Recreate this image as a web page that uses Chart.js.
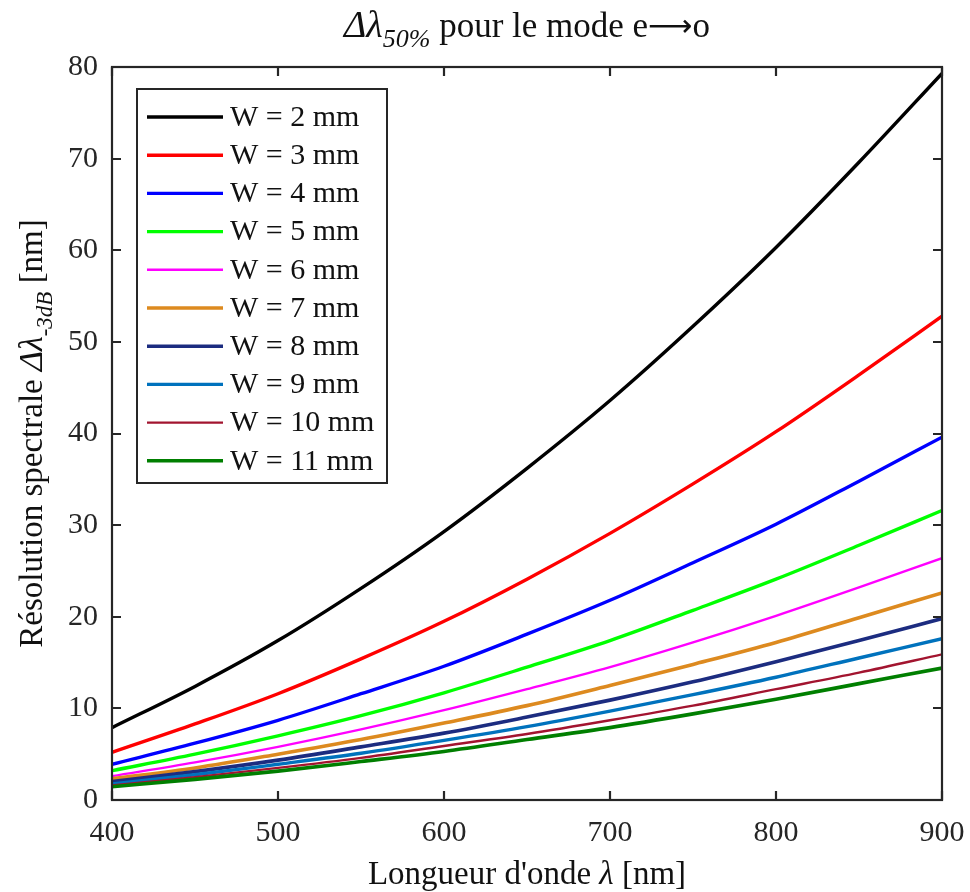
<!DOCTYPE html>
<html><head><meta charset="utf-8">
<script src="https://cdn.jsdelivr.net/npm/chart.js@4.4.0/dist/chart.umd.min.js"></script>
<style>html,body{margin:0;padding:0;background:#fff;}</style>
</head><body>
<canvas id="c" width="970" height="892"></canvas>
<script>
// ---- data ----
const wavelengths = [400, 450, 500, 550, 600, 650, 700, 750, 800, 850, 900];
const seriesLabels = ['W = 2 mm','W = 3 mm','W = 4 mm','W = 5 mm','W = 6 mm','W = 7 mm','W = 8 mm','W = 9 mm','W = 10 mm','W = 11 mm'];
const w2  = [7.9, 12.4, 17.4, 23.1, 29.3, 36.2, 43.6, 51.7, 60.3, 69.6, 79.3];
const w3  = [5.2, 8.3, 11.6, 15.4, 19.5, 24.1, 29.1, 34.5, 40.2, 46.4, 52.8];
const w4  = [3.9, 6.2, 8.7, 11.6, 14.6, 18.1, 21.8, 25.9, 30.1, 34.8, 39.6];
const w5  = [3.2, 5.0, 7.0, 9.2, 11.7, 14.5, 17.4, 20.7, 24.1, 27.8, 31.6];
const w6  = [2.6, 4.1, 5.8, 7.7, 9.8, 12.1, 14.5, 17.2, 20.1, 23.2, 26.4];
const w7  = [2.3, 3.5, 5.0, 6.6, 8.4, 10.3, 12.5, 14.8, 17.2, 19.9, 22.6];
const w8  = [2.0, 3.1, 4.35, 5.8, 7.3, 9.05, 10.9, 12.9, 15.1, 17.4, 19.8];
const w9  = [1.75, 2.75, 3.9, 5.1, 6.5, 8.0, 9.7, 11.5, 13.4, 15.5, 17.6];
const w10 = [1.6, 2.5, 3.5, 4.6, 5.9, 7.2, 8.7, 10.3, 12.1, 13.9, 15.9];
const w11 = [1.45, 2.25, 3.15, 4.2, 5.3, 6.6, 7.9, 9.4, 11.0, 12.7, 14.4];
const xTickValues = [400, 500, 600, 700, 800, 900];
const yTickValues = [0, 10, 20, 30, 40, 50, 60, 70, 80];

// ---- styles ----
const seriesValues = [w2, w3, w4, w5, w6, w7, w8, w9, w10, w11];
const colors = ['#000000','#ff0000','#0000ff','#00ff00','#ff00ff','#dd8a1f','#1c2c80','#0072bd','#a2142f','#007f00'];
const widths = [3.4, 3.4, 3.4, 3.4, 2.4, 3.6, 3.6, 3.4, 2.4, 3.6];
const FONT = '"Liberation Serif", "DejaVu Serif", serif';
const INK = '#262626';

const datasets = seriesValues.map((vals, i) => ({
  label: seriesLabels[i],
  data: wavelengths.map((x, j) => ({x: x, y: vals[j]})),
  borderColor: colors[i],
  backgroundColor: colors[i],
  borderWidth: widths[i],
  pointRadius: 0,
  cubicInterpolationMode: 'monotone',
  fill: false
})).reverse();

function drawRich(ctx, runs, x, y) {
  let total = 0;
  runs.forEach(r => { ctx.font = (r.it ? 'italic ' : '') + r.size + 'px ' + (r.f || FONT); r.w = ctx.measureText(r.t).width; total += r.w; });
  let cx = x - total / 2;
  ctx.textAlign = 'left'; ctx.textBaseline = 'alphabetic';
  runs.forEach(r => {
    ctx.font = (r.it ? 'italic ' : '') + r.size + 'px ' + (r.f || FONT);
    ctx.fillText(r.t, cx, y + (r.dy || 0));
    cx += r.w;
  });
}

const decor = {
  id: 'decor',
  afterDatasetsDraw(chart) {
    const ctx = chart.ctx, a = chart.chartArea;
    const xs = chart.scales.x, ys = chart.scales.y;
    ctx.save();
    ctx.strokeStyle = INK; ctx.lineWidth = 2.2;
    ctx.strokeRect(a.left, a.top, a.right - a.left, a.bottom - a.top);
    const TL = 9;
    ctx.beginPath();
    xTickValues.forEach(v => {
      const px = Math.round(xs.getPixelForValue(v));
      ctx.moveTo(px, a.bottom); ctx.lineTo(px, a.bottom - TL);
      ctx.moveTo(px, a.top); ctx.lineTo(px, a.top + TL);
    });
    yTickValues.forEach(v => {
      const py = Math.round(ys.getPixelForValue(v));
      ctx.moveTo(a.left, py); ctx.lineTo(a.left + TL, py);
      ctx.moveTo(a.right, py); ctx.lineTo(a.right - TL, py);
    });
    ctx.stroke();

    // legend
    const lx = 137, ly = 89, lw = 250, lh = 394;
    ctx.fillStyle = '#ffffff';
    ctx.fillRect(lx, ly, lw, lh);
    ctx.strokeStyle = INK; ctx.lineWidth = 2;
    ctx.strokeRect(lx, ly, lw, lh);
    const items = chart.data.datasets.slice().reverse();
    items.forEach((ds, i) => {
      const yy = 117 + i * 38.2;
      ctx.strokeStyle = ds.borderColor; ctx.lineWidth = ds.borderWidth;
      ctx.beginPath(); ctx.moveTo(147, yy); ctx.lineTo(223, yy); ctx.stroke();
      ctx.fillStyle = '#111'; ctx.font = '30px ' + FONT;
      ctx.textAlign = 'left'; ctx.textBaseline = 'middle';
      ctx.fillText(ds.label, 230, yy + 1);
    });

    // titles
    ctx.fillStyle = '#111';
    const cx = (a.left + a.right) / 2;
    drawRich(ctx, [
      {t: 'Δ', it: true, size: 38}, {t: 'λ', it: true, size: 38},
      {t: '50%', it: true, size: 26, dy: 10},
      {t: ' pour le mode e', size: 35}, {t: '⟶', size: 31, f: '"DejaVu Sans", sans-serif', dy: -1}, {t: 'o', size: 35}
    ], cx, 37);
    drawRich(ctx, [
      {t: 'Longueur d\'onde ', size: 33}, {t: 'λ', it: true, size: 33}, {t: ' [nm]', size: 33}
    ], cx, 884);
    ctx.save();
    ctx.translate(42, (a.top + a.bottom) / 2);
    ctx.rotate(-Math.PI / 2);
    drawRich(ctx, [
      {t: 'Résolution spectrale ', size: 33}, {t: 'Δλ', it: true, size: 34},
      {t: '-3dB', it: true, size: 23, dy: 10}, {t: ' [nm]', size: 33}
    ], 0, 0);
    ctx.restore();
    ctx.restore();
  }
};

new Chart(document.getElementById('c'), {
  type: 'line',
  data: { datasets: datasets },
  options: {
    responsive: false,
    animation: false,
    layout: { padding: { left: 0, right: 28, top: 67, bottom: 0 } },
    plugins: { legend: { display: false }, tooltip: { enabled: false }, title: { display: false } },
    scales: {
      x: {
        type: 'linear', min: 400, max: 900,
        afterBuildTicks: s => { s.ticks = xTickValues.map(v => ({value: v})); },
        afterFit: s => { s.height = 92; s.paddingLeft = 0; s.paddingRight = 0; },
        grid: { display: false, drawTicks: false },
        border: { display: false },
        ticks: { color: '#262626', font: { family: FONT, size: 30 }, padding: 15, maxRotation: 0 }
      },
      y: {
        type: 'linear', min: 0, max: 80,
        afterBuildTicks: s => { s.ticks = yTickValues.map(v => ({value: v})); },
        afterFit: s => { s.width = 112; s.paddingTop = 0; s.paddingBottom = 0; },
        grid: { display: false, drawTicks: false },
        border: { display: false },
        ticks: { color: '#262626', font: { family: FONT, size: 30 }, padding: 14 }
      }
    }
  },
  plugins: [decor]
});
</script>
</body></html>
